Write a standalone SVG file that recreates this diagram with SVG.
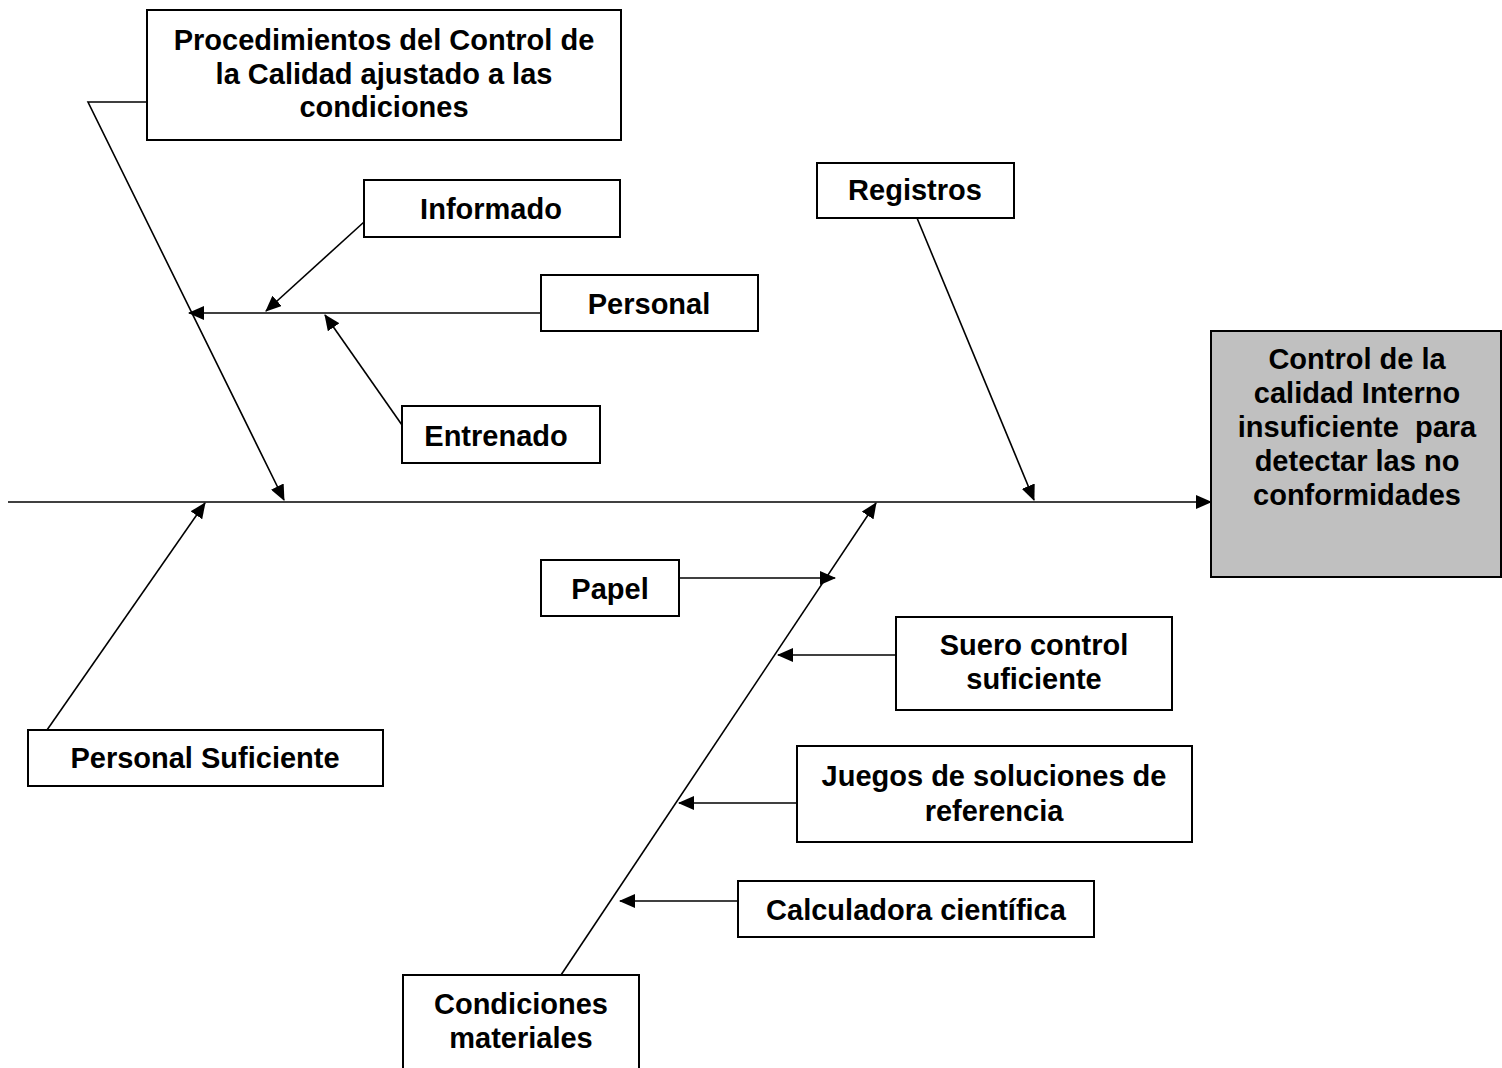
<svg xmlns="http://www.w3.org/2000/svg" width="1502" height="1068" viewBox="0 0 1502 1068">
<style>
  .box { fill: #ffffff; stroke: #000000; stroke-width: 2; }
  .effect { fill: #c0c0c0; stroke: #000000; stroke-width: 2; }
  .lbl { font-family: "Liberation Sans", Arial, sans-serif; font-weight: bold; font-size: 29px; fill: #000000; text-anchor: middle; }
  .conn { stroke: #000000; stroke-width: 1.6; fill: none; }
  .arr { marker-end: url(#ah); }
</style>
<defs>
  <marker id="ah" markerUnits="userSpaceOnUse" markerWidth="16" markerHeight="14" refX="15" refY="7" orient="auto">
    <path d="M0,0 L16,7 L0,14 Z" fill="#000000"/>
  </marker>
</defs>
<rect width="1502" height="1068" fill="#ffffff"/>

<g id="connectors">
  <line class="conn arr" x1="8" y1="502" x2="1211" y2="502"/>
  <polyline class="conn arr" points="147,102 88,102 284,500"/>
  <line class="conn arr" x1="541" y1="313" x2="189" y2="313"/>
  <line class="conn arr" x1="364" y1="222" x2="266" y2="311"/>
  <line class="conn arr" x1="402" y1="425" x2="325" y2="315"/>
  <line class="conn arr" x1="917" y1="218" x2="1034" y2="500"/>
  <line class="conn arr" x1="47" y1="730" x2="205" y2="503"/>
  <line class="conn arr" x1="561" y1="975" x2="876" y2="503"/>
  <line class="conn arr" x1="679" y1="578" x2="835" y2="578"/>
  <line class="conn arr" x1="896" y1="655" x2="778" y2="655"/>
  <line class="conn arr" x1="797" y1="803" x2="679" y2="803"/>
  <line class="conn arr" x1="738" y1="901" x2="620" y2="901"/>
</g>

<g id="procedimientos">
  <rect class="box" x="147" y="10" width="474" height="130"/>
  <text class="lbl" x="384" y="50">Procedimientos del Control de</text>
  <text class="lbl" x="384" y="84">la Calidad ajustado a las</text>
  <text class="lbl" x="384" y="117">condiciones</text>
</g>

<g id="informado">
  <rect class="box" x="364" y="180" width="256" height="57"/>
  <text class="lbl" x="491" y="219">Informado</text>
</g>

<g id="personal">
  <rect class="box" x="541" y="275" width="217" height="56"/>
  <text class="lbl" x="649" y="314">Personal</text>
</g>

<g id="entrenado">
  <rect class="box" x="402" y="406" width="198" height="57"/>
  <text class="lbl" x="496" y="446">Entrenado</text>
</g>

<g id="registros">
  <rect class="box" x="817" y="163" width="197" height="55"/>
  <text class="lbl" x="915" y="200">Registros</text>
</g>

<g id="efecto">
  <rect class="effect" x="1211" y="331" width="290" height="246"/>
  <text class="lbl" x="1357" y="369">Control de la</text>
  <text class="lbl" x="1357" y="403">calidad Interno</text>
  <text class="lbl" x="1357" y="437" xml:space="preserve">insuficiente  para</text>
  <text class="lbl" x="1357" y="471">detectar las no</text>
  <text class="lbl" x="1357" y="505">conformidades</text>
</g>

<g id="personal-suficiente">
  <rect class="box" x="28" y="730" width="355" height="56"/>
  <text class="lbl" x="205" y="768">Personal Suficiente</text>
</g>

<g id="papel">
  <rect class="box" x="541" y="560" width="138" height="56"/>
  <text class="lbl" x="610" y="599">Papel</text>
</g>

<g id="suero">
  <rect class="box" x="896" y="617" width="276" height="93"/>
  <text class="lbl" x="1034" y="655">Suero control</text>
  <text class="lbl" x="1034" y="689">suficiente</text>
</g>

<g id="juegos">
  <rect class="box" x="797" y="746" width="395" height="96"/>
  <text class="lbl" x="994" y="786">Juegos de soluciones de</text>
  <text class="lbl" x="994" y="821">referencia</text>
</g>

<g id="calculadora">
  <rect class="box" x="738" y="881" width="356" height="56"/>
  <text class="lbl" x="916" y="920">Calculadora científica</text>
</g>

<g id="condiciones">
  <rect class="box" x="403" y="975" width="236" height="100"/>
  <text class="lbl" x="521" y="1014">Condiciones</text>
  <text class="lbl" x="521" y="1048">materiales</text>
</g>
</svg>
